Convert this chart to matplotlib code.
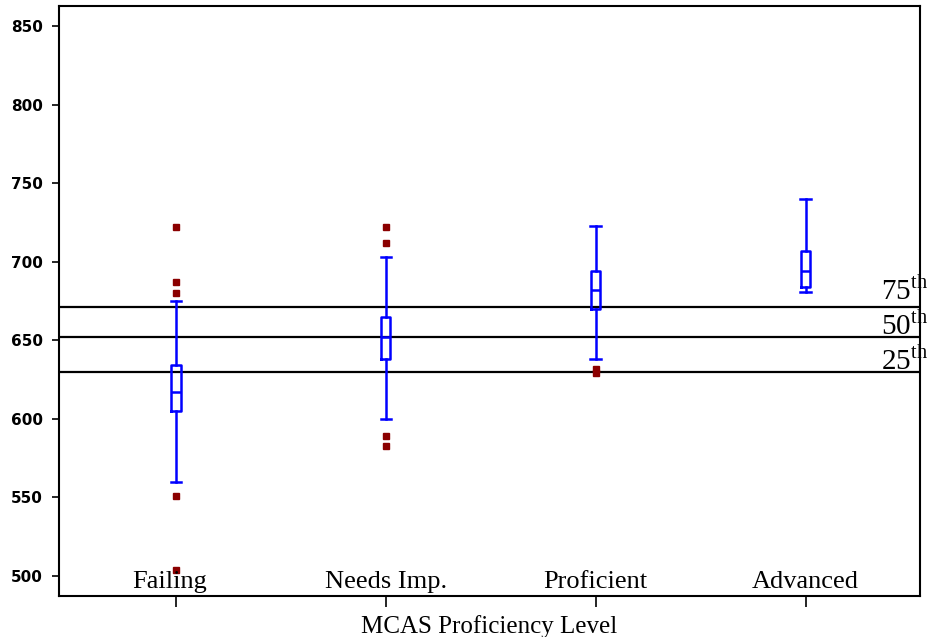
import matplotlib
matplotlib.use("Agg")
import matplotlib.pyplot as plt

# MCAS proficiency levels and score summaries
levels = ["Failing", "Needs Imp.", "Proficient", "Advanced"]
q1 = [605, 638, 670, 684]
medians = [617, 652, 682, 694]
q3 = [634, 665, 694, 707]
whisker_lo = [560, 600, 638, 681]
whisker_hi = [675, 703, 723, 740]
outliers = [[722, 687, 680, 551, 504],
            [722, 712, 589, 583],
            [632, 629],
            []]

# percentile reference lines
pct_names = ["75", "50", "25"]
pct_values = [671, 652, 630]
pct_label_y = [675.5, 653.5, 631]

plt.rcParams['mathtext.fontset'] = 'custom'
plt.rcParams['mathtext.rm'] = 'Liberation Serif'

fig = plt.figure(figsize=(9.27, 6.37), dpi=100)
ax = fig.add_axes([0.0636, 0.064, 0.929, 0.9266])

stats = []
for i in range(len(levels)):
    stats.append({'label': levels[i], 'med': medians[i], 'q1': q1[i], 'q3': q3[i],
                  'whislo': whisker_lo[i], 'whishi': whisker_hi[i],
                  'fliers': outliers[i]})

blue = dict(color='#0000ff', linewidth=1.8)
ax.bxp(stats, positions=[1, 2, 3, 4], widths=0.045, capwidths=0.05,
       boxprops=blue, whiskerprops=blue, capprops=blue, medianprops=blue,
       flierprops=dict(marker='s', markersize=4, markerfacecolor='#8b0000',
                       markeredgecolor='#8b0000', linestyle='none'))

for name, v, ly in zip(pct_names, pct_values, pct_label_y):
    ax.axhline(v, color='black', linewidth=1.6, zorder=1)
    ax.text(4.585, ly, name + r'$^{\rm th}$', ha='right', va='baseline',
            fontsize=21, family='Liberation Serif')

for i, lab in enumerate(levels):
    ax.text(i + 1 - (0.03 if i == 0 else 0), 492.3, lab, ha='center',
            va='baseline', fontsize=19, family='Liberation Serif')

ax.set_xlim(0.443, 4.546)
ax.set_ylim(487, 863)
ax.set_yticks([500, 550, 600, 650, 700, 750, 800, 850])
ax.set_xticks([1, 2, 3, 4])
ax.set_xticklabels([])
ax.tick_params(axis='y', length=5, width=1.2, labelsize=11, pad=6.5)
ax.tick_params(axis='x', length=8, width=1.2)
for lab in ax.get_yticklabels():
    lab.set_fontweight('bold')
for sp in ax.spines.values():
    sp.set_linewidth(1.5)

ax.set_xlabel("MCAS Proficiency Level", fontsize=18, family='Liberation Serif',
              labelpad=2)

fig.savefig("out.png", dpi=100)
